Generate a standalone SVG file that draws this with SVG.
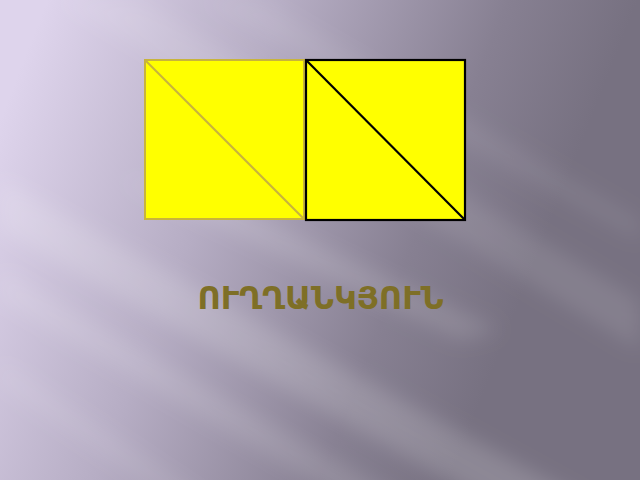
<svg xmlns="http://www.w3.org/2000/svg" width="640" height="480" viewBox="0 0 640 480">
  <defs>
    <linearGradient id="bg" x1="0" y1="0.25" x2="0.85" y2="0.5">
      <stop offset="0" stop-color="#ded4ec"/>
      <stop offset="0.4" stop-color="#b6adc4"/>
      <stop offset="0.78" stop-color="#878092"/>
      <stop offset="1" stop-color="#777181"/>
    </linearGradient>
    <filter id="blur" x="-20%" y="-20%" width="140%" height="140%">
      <feGaussianBlur stdDeviation="10"/>
    </filter>
    <style>
      .sq { fill: #ffff00; }
      .s1 { stroke: #c8b43c; stroke-width: 2; }
      .s2 { stroke: #000000; stroke-width: 2.2; }
      .ray { fill: #ffffff; }
      .title { font-family: "DejaVu Sans", "Noto Sans", sans-serif; font-weight: bold; font-size: 32px; fill: #7e6f26; }
    </style>
  </defs>

  <g id="background">
    <rect x="0" y="0" width="640" height="480" fill="url(#bg)"/>
    <g filter="url(#blur)">
      <polygon class="ray" opacity="0.16" points="0,180 0,230 520,520 620,520"/>
      <polygon class="ray" opacity="0.12" points="0,270 0,300 380,520 440,520"/>
      <polygon class="ray" opacity="0.10" points="60,0 140,0 640,300 640,350"/>
      <polygon class="ray" opacity="0.13" points="120,180 200,190 500,330 460,340"/>
      <polygon class="ray" opacity="0.09" points="0,360 0,385 200,520 240,520"/>
      <polygon class="ray" opacity="0.08" points="200,0 260,0 640,220 640,240"/>
    </g>
  </g>

  <g id="square-left">
    <rect class="sq s1" x="145" y="60" width="159" height="159"/>
    <line class="s1" x1="145" y1="60" x2="304" y2="219"/>
  </g>

  <g id="square-right">
    <rect class="sq s2" x="306" y="60" width="159" height="160"/>
    <line class="s2" x1="306" y1="60" x2="465" y2="220"/>
  </g>

  <g id="connectors"/>

  <g id="label">
    <text class="title" x="320.5" y="309" text-anchor="middle">ՈՒՂՂԱՆԿՅՈՒՆ</text>
  </g>
</svg>
